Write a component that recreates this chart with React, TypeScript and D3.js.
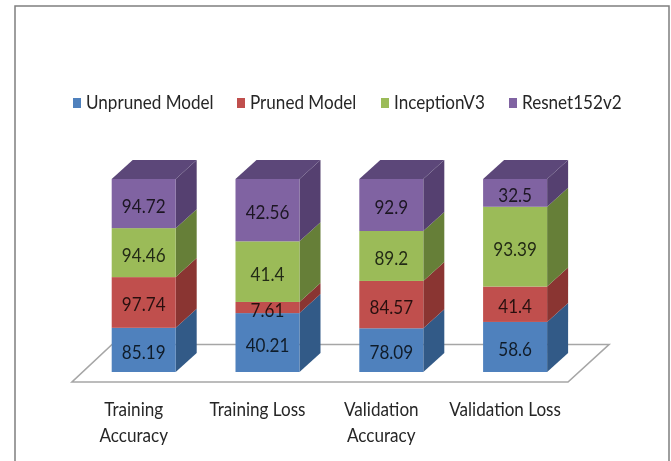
import React from "react";
import * as d3 from "d3";

// values
const categories = ["Training Accuracy", "Training Loss", "Validation Accuracy", "Validation Loss"];
const categoryLines = [["Training", "Accuracy"], ["Training Loss"], ["Validation", "Accuracy"], ["Validation Loss"]];
const seriesNames = ["Unpruned Model", "Pruned Model", "InceptionV3", "Resnet152v2"];
const unpruned = [85.19, 40.21, 78.09, 58.6];
const pruned = [97.74, 7.61, 84.57, 41.4];
const inception = [94.46, 41.4, 89.2, 93.39];
const resnet = [94.72, 42.56, 92.9, 32.5];

const frontColors = ["#4f81bd", "#c0504d", "#9bbb59", "#8064a2"];
const sideColors = ["#335a87", "#8a3432", "#667f38", "#54406f"];
const topColor = "#5c4779";
const legendX = [73, 237, 381, 509];

const width = 671;
const height = 461;
const depthX = 21;
const depthY = -19;
const font = "Lato, 'Open Sans', sans-serif";
const squeeze = 0.9; // Calibri-ish width, Lato runs a bit wide

const rows = categories.map((c, i) => ({
  category: c,
  [seriesNames[0]]: unpruned[i],
  [seriesNames[1]]: pruned[i],
  [seriesNames[2]]: inception[i],
  [seriesNames[3]]: resnet[i],
}));

const stacked = d3.stack<any>().keys(seriesNames).offset(d3.stackOffsetExpand)(rows);

const x = d3.scaleBand().domain(categories).range([81.8, 577]).paddingInner(0.483).paddingOuter(0.2415);
const y = d3.scaleLinear().domain([0, 1]).range([372, 179]);

// skewed face next to the front of a bar
const sidePath = (x0: number, y0: number, y1: number) => {
  const p = d3.path();
  p.moveTo(x0, y0);
  p.lineTo(x0 + depthX, y0 + depthY);
  p.lineTo(x0 + depthX, y1 + depthY);
  p.lineTo(x0, y1);
  p.closePath();
  return p.toString();
};

const topPath = (x0: number, x1: number, y0: number) => {
  const p = d3.path();
  p.moveTo(x0, y0);
  p.lineTo(x0 + depthX, y0 + depthY);
  p.lineTo(x1 + depthX, y0 + depthY);
  p.lineTo(x1, y0);
  p.closePath();
  return p.toString();
};

const floorPath = () => {
  const p = d3.path();
  p.moveTo(72, 382);
  p.lineTo(568, 382);
  p.lineTo(609, 344.5);
  p.lineTo(112, 344.5);
  p.closePath();
  return p.toString();
};

const Label = ({ x, y, anchor, fill, opacity, children }: any) => (
  <text
    transform={`translate(${x},${y}) scale(${squeeze},1)`}
    textAnchor={anchor}
    fontSize={19}
    fill={fill}
    fillOpacity={opacity}
  >
    {children}
  </text>
);

export default function App() {
  return (
    <svg
      width={width}
      height={height}
      style={{ position: "absolute", left: 0, top: 0, background: "#fff" }}
      fontFamily={font}
    >
      <defs>
        <filter id="soft" x="-5%" y="-5%" width="110%" height="110%">
          <feGaussianBlur stdDeviation="0.45" />
        </filter>
      </defs>
      <g filter="url(#soft)">
        {/* outer frame, runs off the bottom of the picture */}
        <path d="M15,470 V6 H669 V470" fill="none" stroke="#7f7f7f" strokeWidth={1.5} />

        {seriesNames.map((s, i) => (
          <g key={s}>
            <rect x={legendX[i]} y={98} width={8} height={10} fill={frontColors[i]} />
            <Label x={legendX[i] + 13} y={109} anchor="start" fill="#262626">
              {s}
            </Label>
          </g>
        ))}

        <path d={floorPath()} fill="#fff" stroke="#a6a6a6" strokeWidth={1.6} />

        {stacked.map((layer, si) => (
          <g key={layer.key}>
            {layer.map((d, i) => {
              const x0 = x(categories[i])!;
              const x1 = x0 + x.bandwidth();
              const yTop = y(d[1]);
              const yBottom = y(d[0]);
              return (
                <g key={categories[i]}>
                  <path d={sidePath(x1, yBottom, yTop)} fill={sideColors[si]} />
                  <rect x={x0} y={yTop} width={x.bandwidth()} height={yBottom - yTop} fill={frontColors[si]} />
                  {si === seriesNames.length - 1 && <path d={topPath(x0, x1, yTop)} fill={topColor} />}
                </g>
              );
            })}
          </g>
        ))}

        {stacked.map((layer) =>
          layer.map((d, i) => (
            <Label
              key={layer.key + i}
              x={x(categories[i])! + x.bandwidth() / 2}
              y={(y(d[0]) + y(d[1])) / 2 + 9}
              anchor="middle"
              fill="#000"
              opacity={0.78}
            >
              {(d.data as any)[layer.key]}
            </Label>
          )),
        )}

        {categoryLines.map((lines, i) =>
          lines.map((l, j) => (
            <Label key={l} x={x(categories[i])! + x.bandwidth() / 2 - 10} y={416 + j * 26} anchor="middle" fill="#262626">
              {l}
            </Label>
          )),
        )}
      </g>
    </svg>
  );
}
